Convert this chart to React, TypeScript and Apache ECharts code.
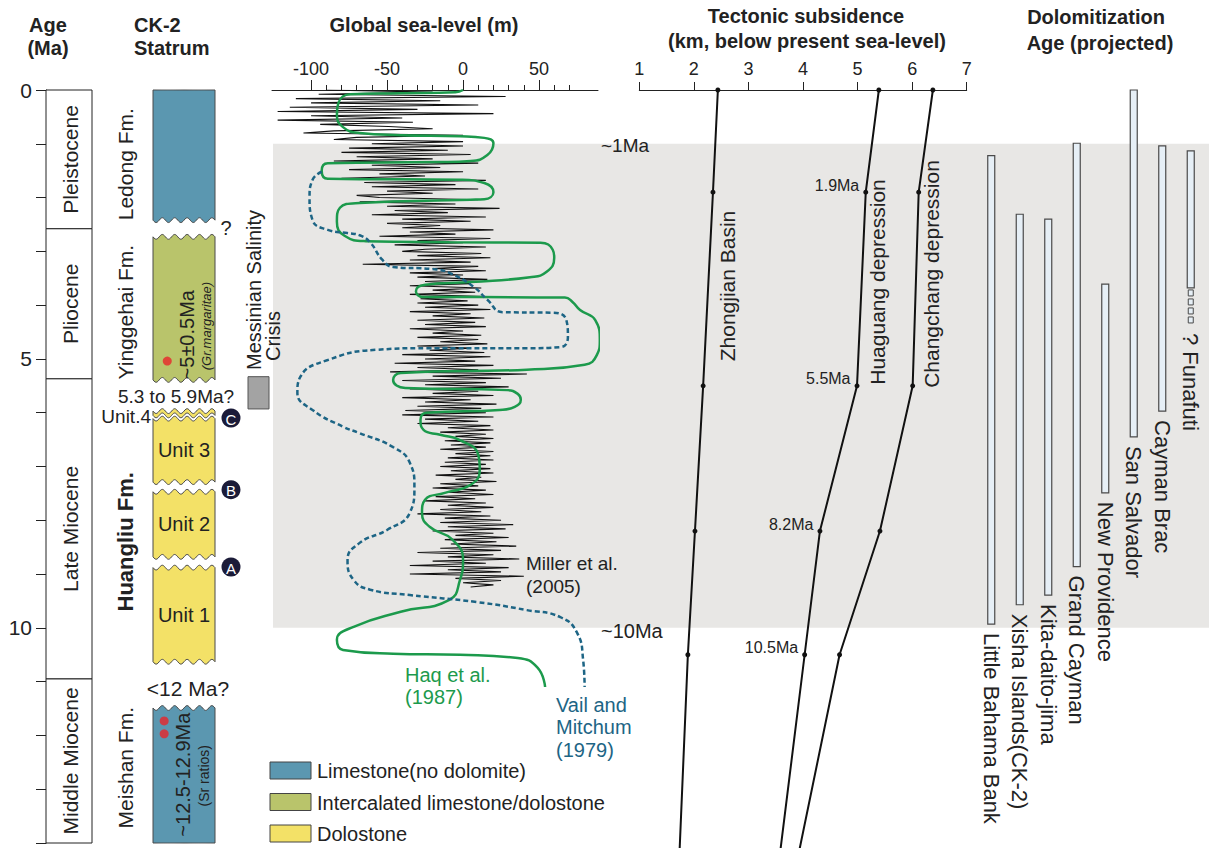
import React, { useEffect, useRef } from 'react';
import * as echarts from 'echarts';

const FONT = '"Liberation Sans", Arial, Helvetica, sans-serif';
const INK = '#222222';
const AGE_MIN = 0;
const AGE_MAX = 14;

// Geological time scale (Ma)
const EPOCHS = [
  { name: 'Pleistocene', top: 0, base: 2.58 },
  { name: 'Pliocene', top: 2.58, base: 5.37 },
  { name: 'Late Miocene', top: 5.37, base: 10.95 },
  { name: 'Middle Miocene', top: 10.95, base: 14 },
];

// CK-2 lithological units (Ma)
const LITH_COLORS: Record<string, string> = {
  limestone: '#5b97b0',
  mixed: '#b9c46b',
  dolostone: '#f3e167',
};
const STRAT_UNITS = [
  { name: '', top: 0, base: 2.42, lith: 'limestone', topWavy: false, baseWavy: true },
  { name: '', top: 2.73, base: 5.39, lith: 'mixed', topWavy: true, baseWavy: true },
  { name: '', top: 5.97, base: 6.05, lith: 'dolostone', topWavy: true, baseWavy: true },
  { name: 'Unit 3', top: 6.11, base: 7.29, lith: 'dolostone', topWavy: true, baseWavy: true },
  { name: 'Unit 2', top: 7.47, base: 8.68, lith: 'dolostone', topWavy: true, baseWavy: true },
  { name: 'Unit 1', top: 8.88, base: 10.63, lith: 'dolostone', topWavy: true, baseWavy: true },
  { name: '', top: 11.49, base: 14, lith: 'limestone', topWavy: true, baseWavy: false },
];

// Formation names and notes beside / inside the column (dx: px from column left)
const STRAT_NOTES = [
  { text: 'Ledong Fm.', age: 1.38, dx: -28, size: 21, rotate: true, weight: 'normal', style: 'normal', align: 'center' },
  { text: 'Yinggehai Fm.', age: 4.13, dx: -28, size: 21, rotate: true, weight: 'normal', style: 'normal', align: 'center' },
  { text: 'Huangliu Fm.', age: 8.4, dx: -28, size: 22, rotate: true, weight: 'bold', style: 'normal', align: 'center' },
  { text: 'Meishan Fm.', age: 12.6, dx: -28, size: 21, rotate: true, weight: 'normal', style: 'normal', align: 'center' },
  { text: '~5±0.5Ma', age: 4.55, dx: 34, size: 20, rotate: true, weight: 'normal', style: 'normal', align: 'center' },
  { text: '(Gr.margaritae)', age: 4.39, dx: 53, size: 13, rotate: true, weight: 'normal', style: 'italic', align: 'center' },
  { text: '~12.5-12.9Ma', age: 12.73, dx: 30, size: 20, rotate: true, weight: 'normal', style: 'normal', align: 'center' },
  { text: '(Sr ratios)', age: 12.75, dx: 51, size: 14, rotate: true, weight: 'normal', style: 'normal', align: 'center' },
  { text: '5.3 to 5.9Ma?', age: 5.69, dx: 23, size: 19, rotate: false, weight: 'normal', style: 'normal', align: 'center' },
  { text: 'Unit.4', age: 6.07, dx: -2, size: 19, rotate: false, weight: 'normal', style: 'normal', align: 'right' },
  { text: '<12 Ma?', age: 11.12, dx: 35, size: 21, rotate: false, weight: 'normal', style: 'normal', align: 'center' },
  { text: '?', age: 2.57, dx: 73, size: 20, rotate: false, weight: 'normal', style: 'normal', align: 'center' },
];

// Dated samples (fraction across column, age Ma)
const DATED_SAMPLES = [
  [0.23, 5.04],
  [0.18, 11.73],
  [0.18, 11.97],
];

// Sequence boundaries
const BOUNDARIES = [
  { name: 'C', age: 6.1 },
  { name: 'B', age: 7.43 },
  { name: 'A', age: 8.87 },
];

const MESSINIAN = { top: 5.33, base: 5.93 };
const DOLOMITIZATION_WINDOW = { top: 1, base: 10 };

// Global sea-level (m)
const SEA_MIN = -125.7;
const SEA_MAX = 88.8;
const SEA_MAJOR = [-100, -50, 0, 50];
const SEA_MINOR = [-90, -80, -70, -60, -40, -30, -20, -10, 10, 20, 30, 40, 60, 70];

// Miller et al. (2005): sea level every 0.04 Ma from 0 Ma
const MILLER_STEP = 0.04;
const MILLER_LEVELS = [
  -90, -20, -95, 28, -110, -15, -100, 10, -114, -30, -122, 20, -100, -40, -122, -33, -94, -49, -20, -85, -105, 0, -70, -85, 0,
  -60, 0, -75, -10, -80, 5, -70, -20, -85, 10, -60, -15, -75, 0, -55, -25, -80, 15, -65, -5, -60, 10, -50, -20, -70,
  -55, 10, -68, -5, -50, 24, -45, -10, -60, 15, -40, 5, -50, -15, -40, 20, -35, -5, -55, 18, -30, 0, -45, 15, -25,
  -40, 12, -30, 18, -35, 5, -66, 10, -20, 15, -35, 0, -30, 16, -25, 5, -35, 12, -20, 8, -35, 15, -28, 3, -30,
  10, -25, 18, -35, 5, -20, 14, -30, 8, -25, 15, -35, 0, -20, 12, -30, 10, -15, 16, -30, 5, -22, 14, -40, 18,
  -25, 8, -45, 20, -30, 10, -48, 42, -20, 25, -40, 15, -25, 30, -35, 10, -20, 20, -40, 5, -25, 22, -30, 12, -38,
  15, -40, 20, -25, 10, -30, 18, -10, 20, -15, 15, -5, 20, -12, 18, -8, 15, -15, 20, -5, 18, -10, 20, -12, 15,
  -15, 18, -8, 20, -18, 12, -5, 22, -15, 10, -20, 15, -10, 20, -18, 8, -25, 15, -10, 20, -15, 12, -30, 18, -12,
  25, -15, 33, -10, 28, -20, 20, -5, 30, -12, 22, -8, 35, -15, 25, -30, 20, -10, 37, -20, 15, -35, 30, -10, 25,
  -35, 40, -5, 25, 0, 20, 5,
];

// Haq et al. (1987): [sea level m, age Ma]
const HAQ = [
  [0, 0], [-5, 0.04], [-41, 0.06], [-74, 0.08], [-82, 0.24], [-83, 0.46], [-79, 0.69], [-68, 0.8],
  [-41, 0.84], [-2, 0.86], [14, 0.89], [20, 0.99], [16, 1.21], [5, 1.32], [-15, 1.34], [-89, 1.36],
  [-93, 1.5], [-89, 1.65], [-2, 1.67], [14, 1.73], [20, 1.9], [14, 2.03], [5, 2.04], [-68, 2.1],
  [-81, 2.19], [-83, 2.45], [-78, 2.71], [-64, 2.81], [-9, 2.83], [51, 2.84], [59, 2.97], [60, 3.12],
  [55, 3.38], [44, 3.48], [5, 3.57], [-25, 3.62], [-31, 3.74], [-26, 3.85], [11, 3.85], [67, 3.86],
  [72, 3.94], [77, 4.09], [87, 4.28], [90, 4.65], [88, 4.93], [80, 5.11], [42, 5.2], [-41, 5.26],
  [-46, 5.39], [-38, 5.54], [29, 5.58], [36, 5.65], [38, 5.76], [34, 5.89], [24, 5.95], [-24, 6.0],
  [-28, 6.13], [-26, 6.32], [-15, 6.41], [-2, 6.51], [10, 6.78], [11, 7.06], [5, 7.34], [-12, 7.49],
  [-25, 7.62], [-27, 7.86], [-22, 8.12], [-7, 8.36], [0, 8.74], [-2, 9.11], [-9, 9.48], [-41, 9.7],
  [-72, 9.98], [-83, 10.22], [-79, 10.41], [-46, 10.48], [-2, 10.5], [36, 10.56], [49, 10.74], [54, 11.1],
];

// Vail and Mitchum (1979): [sea level m, age Ma]
const VAIL = [
  [-93, 1.52], [-99, 1.67], [-101, 1.99], [-99, 2.42], [-89, 2.6], [-76, 2.66], [-68, 2.7], [-61, 2.84],
  [-53, 3.16], [-46, 3.29], [-20, 3.33], [-9, 3.4], [7, 3.66], [16, 3.9], [26, 4.13], [59, 4.14],
  [68, 4.28], [69, 4.59], [64, 4.78], [42, 4.8], [-24, 4.8], [-57, 4.83], [-89, 5.02], [-107, 5.33],
  [-109, 5.63], [-99, 5.95], [-79, 6.26], [-68, 6.38], [-46, 6.64], [-35, 6.93], [-32, 7.38], [-35, 7.86],
  [-50, 8.18], [-68, 8.42], [-76, 8.74], [-72, 9.11], [-61, 9.29], [-35, 9.39], [9, 9.52], [42, 9.67],
  [64, 9.8], [75, 10.09], [79, 10.59], [80, 11.1],
];

// Tectonic subsidence (km below present sea level) at ages (Ma)
const SUBSIDENCE_AGES = [0, 1.9, 5.5, 8.2, 10.5, 14.1];
const ZHONGJIAN = [2.44, 2.35, 2.17, 2.02, 1.89, 1.74];
const HUAGUANG = [5.39, 5.15, 4.99, 4.31, 4.03, 3.59];
const CHANGCHANG = [6.38, 6.12, 6.01, 5.41, 4.67, 3.94];
const LABELLED_AGES = [1.9, 5.5, 8.2, 10.5];

// Dolomitization age ranges (Ma)
const DOLOMITE = [
  { name: 'Little Bahama Bank', top: 1.22, base: 9.93 },
  { name: 'Xisha Islands(CK-2)', top: 2.31, base: 9.57 },
  { name: 'Kita-daito-jima', top: 2.4, base: 9.39 },
  { name: 'Grand Cayman', top: 0.99, base: 8.86 },
  { name: 'New Providence', top: 3.61, base: 7.49 },
  { name: 'San Salvador', top: 0, base: 6.45 },
  { name: 'Cayman Brac', top: 1.04, base: 5.97 },
  { name: 'Funafuti', top: 1.13, base: 3.68, uncertainBase: 4.35 },
];

const LEGEND = [
  { name: 'Limestone(no dolomite)', lith: 'limestone' },
  { name: 'Intercalated limestone/dolostone', lith: 'mixed' },
  { name: 'Dolostone', lith: 'dolostone' },
];

const GREEN = '#1c9a4c';
const TEAL = '#1d6585';

function edge(x0: number, x1: number, y: number, wavy: boolean, reverse: boolean) {
  const pts: number[][] = [];
  const n = 60;
  for (let i = 0; i <= n; i++) {
    const t = i / n;
    const x = x0 + (x1 - x0) * t;
    const dy = wavy ? 2.4 * Math.sin(t * 5 * 2 * Math.PI) : 0;
    pts.push([x, y + dy]);
  }
  return reverse ? pts.reverse() : pts;
}

function txt(text: string, x: number, y: number, o: any = {}) {
  return {
    type: 'text',
    x,
    y,
    rotation: o.rotation || 0,
    z: 20,
    style: {
      text,
      fill: o.fill || INK,
      font: `${o.style || 'normal'} ${o.weight || 'normal'} ${o.size || 20}px ${FONT}`,
      align: o.align || 'left',
      verticalAlign: o.va || 'middle',
    },
  };
}

function hiddenY(gridIndex: number) {
  return { gridIndex, type: 'value', inverse: true, min: AGE_MIN, max: AGE_MAX, show: false };
}
function hiddenX(gridIndex: number) {
  return { gridIndex, type: 'value', min: 0, max: 1, show: false };
}

function subsidenceSeries(values: number[], labelled: boolean) {
  return {
    type: 'line',
    xAxisIndex: 5,
    yAxisIndex: 4,
    clip: false,
    z: 6,
    lineStyle: { color: '#111', width: 2 },
    itemStyle: { color: '#111' },
    symbolSize: 5,
    data: values.map((km, i) => {
      const age = SUBSIDENCE_AGES[i];
      const last = i === values.length - 1;
      return {
        value: [km, age],
        symbol: last ? 'none' : 'circle',
        label: {
          show: labelled && LABELLED_AGES.includes(age),
          formatter: `${age}Ma`,
          position: 'left',
          distance: 4,
          offset: [0, -7],
          fontSize: 16,
          fontFamily: FONT,
          color: INK,
        },
      };
    }),
  };
}

function buildOption() {
  const grids = [
    { left: 46, top: 90, width: 46, height: 753 },
    { left: 153, top: 90, width: 62, height: 753 },
    { left: 273, top: 90, width: 936, height: 753 },
    { left: 272, top: 90, width: 326, height: 753 },
    { left: 639.3, top: 90, width: 327.4, height: 753 },
    { left: 977, top: 90, width: 228, height: 753 },
  ].map((g) => ({ ...g, containLabel: false, outerBoundsMode: 'none' }));

  const axisText = { fontFamily: FONT, color: INK };

  const graphic: any[] = [
    txt('Age', 48, 25, { weight: 'bold', align: 'center' }),
    txt('(Ma)', 48, 48, { weight: 'bold', align: 'center' }),
    txt('CK-2', 134, 25, { weight: 'bold' }),
    txt('Statrum', 134, 48, { weight: 'bold' }),
    txt('Global sea-level (m)', 424, 25, { weight: 'bold', align: 'center' }),
    txt('Tectonic subsidence', 806, 16, { weight: 'bold', align: 'center' }),
    txt('(km, below present sea-level)', 807, 41, { weight: 'bold', align: 'center' }),
    txt('Dolomitization', 1096, 17, { weight: 'bold', align: 'center' }),
    txt('Age (projected)', 1100, 43, { weight: 'bold', align: 'center' }),
    txt('~1Ma', 601, 145, { size: 19 }),
    txt('~10Ma', 601, 631, { size: 20 }),
    txt('Miller et al.', 526, 563, { size: 19 }),
    txt('(2005)', 526, 586, { size: 19 }),
    txt('Haq et al.', 405, 675, { fill: GREEN }),
    txt('(1987)', 405, 697, { fill: GREEN }),
    txt('Vail and', 556, 705, { fill: TEAL }),
    txt('Mitchum', 556, 727, { fill: TEAL }),
    txt('(1979)', 556, 750, { fill: TEAL }),
    txt('Messinian Salinity', 254, 370, { rotation: Math.PI / 2 }),
    txt('Crisis', 273, 361, { rotation: Math.PI / 2 }),
    txt('Zhongjian Basin', 727, 286, { size: 21, rotation: Math.PI / 2, align: 'center' }),
    txt('Huaguang depression', 877, 282, { size: 21, rotation: Math.PI / 2, align: 'center' }),
    txt('Changchang depression', 931, 274, { size: 21, rotation: Math.PI / 2, align: 'center' }),
  ];
  LEGEND.forEach((l, i) => {
    const y = 762 + i * 31.5;
    graphic.push({
      type: 'rect',
      shape: { x: 270, y, width: 41, height: 17 },
      style: { fill: LITH_COLORS[l.lith], stroke: '#444', lineWidth: 1 },
      z: 20,
    });
    graphic.push(txt(l.name, 317, y + 9, { size: 20 }));
  });

  return {
    animation: false,
    backgroundColor: '#ffffff',
    grid: grids,
    xAxis: [
      hiddenX(0),
      hiddenX(1),
      hiddenX(2),
      {
        gridIndex: 3,
        type: 'value',
        position: 'top',
        min: SEA_MIN,
        max: SEA_MAX,
        axisLine: { show: true, lineStyle: { color: INK, width: 1 } },
        axisTick: { show: true, length: 10, customValues: SEA_MAJOR, lineStyle: { color: INK } },
        axisLabel: { customValues: SEA_MAJOR, fontSize: 18, margin: 12, ...axisText },
        splitLine: { show: false },
      },
      {
        gridIndex: 3,
        type: 'value',
        position: 'top',
        min: SEA_MIN,
        max: SEA_MAX,
        axisLine: { show: false },
        axisTick: { show: true, length: 5, customValues: SEA_MINOR, lineStyle: { color: INK } },
        axisLabel: { show: false },
        splitLine: { show: false },
      },
      {
        gridIndex: 4,
        type: 'value',
        position: 'top',
        min: 1,
        max: 7,
        interval: 1,
        axisLine: { show: true, lineStyle: { color: INK, width: 1 } },
        axisTick: { show: true, length: 8, lineStyle: { color: INK } },
        axisLabel: { fontSize: 18, margin: 12, ...axisText },
        splitLine: { show: false },
      },
      {
        gridIndex: 5,
        type: 'category',
        data: DOLOMITE.map((d) => d.name),
        show: false,
      },
    ],
    yAxis: [
      {
        gridIndex: 0,
        type: 'value',
        inverse: true,
        min: AGE_MIN,
        max: AGE_MAX,
        interval: 1,
        axisLine: { show: true, lineStyle: { color: INK, width: 1 } },
        axisTick: { show: true, length: 10, lineStyle: { color: INK } },
        axisLabel: {
          formatter: (v: number) => (v % 5 === 0 ? String(v) : ''),
          fontSize: 21,
          margin: 14,
          ...axisText,
        },
        splitLine: { show: false },
      },
      hiddenY(1),
      hiddenY(2),
      hiddenY(3),
      hiddenY(4),
      hiddenY(5),
    ],
    graphic,
    series: [
      // grey window of dolomitization
      {
        type: 'custom',
        xAxisIndex: 2,
        yAxisIndex: 2,
        z: 0,
        clip: false,
        data: [[0, DOLOMITIZATION_WINDOW.top, DOLOMITIZATION_WINDOW.base]],
        renderItem: (_p: any, api: any) => {
          const a = api.coord([0, DOLOMITIZATION_WINDOW.top]);
          const b = api.coord([1, DOLOMITIZATION_WINDOW.base]);
          return {
            type: 'rect',
            shape: { x: a[0], y: a[1], width: b[0] - a[0], height: b[1] - a[1] },
            style: { fill: '#e8e7e5' },
          };
        },
      },
      // epochs
      {
        type: 'custom',
        xAxisIndex: 0,
        yAxisIndex: 0,
        clip: false,
        data: EPOCHS.map((e) => [0.5, e.top, e.base]),
        renderItem: (p: any, api: any) => {
          const e = EPOCHS[p.dataIndex];
          const a = api.coord([0, e.top]);
          const b = api.coord([1, e.base]);
          return {
            type: 'group',
            children: [
              {
                type: 'rect',
                shape: { x: a[0], y: a[1], width: b[0] - a[0], height: b[1] - a[1] },
                style: { fill: '#fff', stroke: INK, lineWidth: 1 },
              },
              txt(e.name, (a[0] + b[0]) / 2 + 1, (a[1] + b[1]) / 2, { size: 21, rotation: Math.PI / 2, align: 'center' }),
            ],
          };
        },
      },
      // CK-2 column
      {
        type: 'custom',
        xAxisIndex: 1,
        yAxisIndex: 1,
        clip: false,
        data: STRAT_UNITS.map((u) => [0.5, u.top, u.base]),
        renderItem: (p: any, api: any) => {
          const u = STRAT_UNITS[p.dataIndex];
          const a = api.coord([0, u.top]);
          const b = api.coord([1, u.base]);
          const points = [
            ...edge(a[0], b[0], a[1], u.topWavy, false),
            ...edge(a[0], b[0], b[1], u.baseWavy, true),
          ];
          const children: any[] = [
            {
              type: 'polygon',
              shape: { points },
              style: { fill: LITH_COLORS[u.lith], stroke: '#4a4a4a', lineWidth: 1 },
            },
          ];
          if (u.name) {
            children.push(txt(u.name, (a[0] + b[0]) / 2, (a[1] + b[1]) / 2, { size: 20, align: 'center' }));
          }
          return { type: 'group', children };
        },
      },
      // notes and formation names
      {
        type: 'custom',
        xAxisIndex: 1,
        yAxisIndex: 1,
        clip: false,
        z: 8,
        data: STRAT_NOTES.map((n) => [0, n.age]),
        renderItem: (p: any, api: any) => {
          const n = STRAT_NOTES[p.dataIndex];
          const a = api.coord([0, n.age]);
          return txt(n.text, a[0] + n.dx, a[1], {
            size: n.size,
            weight: n.weight,
            style: n.style,
            align: n.align,
            rotation: n.rotate ? Math.PI / 2 : 0,
          });
        },
      },
      // dated samples
      {
        type: 'scatter',
        xAxisIndex: 1,
        yAxisIndex: 1,
        z: 9,
        symbolSize: 9,
        itemStyle: { color: '#e8262b' },
        data: DATED_SAMPLES,
      },
      // sequence boundaries and Messinian salinity crisis
      {
        type: 'custom',
        xAxisIndex: 1,
        yAxisIndex: 1,
        clip: false,
        z: 9,
        data: BOUNDARIES.map((b) => [1, b.age]),
        renderItem: (p: any, api: any) => {
          const bd = BOUNDARIES[p.dataIndex];
          const c = api.coord([1, bd.age]);
          const children: any[] = [
            { type: 'circle', shape: { cx: c[0] + 16, cy: c[1], r: 9.5 }, style: { fill: '#1b1b38' } },
            txt(bd.name, c[0] + 16, c[1] + 1, { size: 15, align: 'center', fill: '#fff' }),
          ];
          if (p.dataIndex === 0) {
            const m0 = api.coord([1, MESSINIAN.top]);
            const m1 = api.coord([1, MESSINIAN.base]);
            children.push({
              type: 'rect',
              shape: { x: m0[0] + 33, y: m0[1], width: 21, height: m1[1] - m0[1] },
              style: { fill: '#a3a3a3', stroke: '#555', lineWidth: 1 },
            });
          }
          return { type: 'group', children };
        },
      },
      // sea level curves
      {
        type: 'line',
        xAxisIndex: 3,
        yAxisIndex: 3,
        z: 4,
        symbol: 'none',
        lineStyle: { color: '#111', width: 1.1 },
        data: MILLER_LEVELS.map((v, i) => [v, +(i * MILLER_STEP).toFixed(2)]),
      },
      {
        type: 'line',
        xAxisIndex: 3,
        yAxisIndex: 3,
        z: 5,
        symbol: 'none',
        smooth: 0.5,
        clip: false,
        lineStyle: { color: GREEN, width: 2.5 },
        data: HAQ,
      },
      {
        type: 'line',
        xAxisIndex: 3,
        yAxisIndex: 3,
        z: 5,
        symbol: 'none',
        smooth: 0.5,
        clip: false,
        lineStyle: { color: TEAL, width: 2.5, type: [5, 3] },
        data: VAIL,
      },
      // tectonic subsidence
      subsidenceSeries(ZHONGJIAN, false),
      subsidenceSeries(HUAGUANG, true),
      subsidenceSeries(CHANGCHANG, false),
      // dolomitization ages
      {
        type: 'custom',
        xAxisIndex: 6,
        yAxisIndex: 5,
        clip: false,
        z: 6,
        data: DOLOMITE.map((d, i) => [i, d.top, d.base]),
        renderItem: (p: any, api: any) => {
          const i = p.dataIndex;
          const d: any = DOLOMITE[i];
          const a = api.coord([i, d.top]);
          const b = api.coord([i, d.base]);
          const w = 7;
          const children: any[] = [
            {
              type: 'rect',
              shape: { x: a[0] - w / 2, y: a[1], width: w, height: b[1] - a[1] },
              style: { fill: '#e6eff6', stroke: '#4a4a4a', lineWidth: 1.2 },
            },
          ];
          let end = b[1];
          let label = d.name;
          if (d.uncertainBase) {
            const c = api.coord([i, d.uncertainBase]);
            const n = 4;
            const seg = (c[1] - b[1]) / n;
            for (let k = 0; k < n; k++) {
              children.push({
                type: 'rect',
                shape: { x: a[0] - 2.5, y: b[1] + k * seg + 2, width: 5, height: seg - 3 },
                style: { fill: '#e6eff6', stroke: '#4a4a4a', lineWidth: 1 },
              });
            }
            end = c[1];
            label = '? ' + d.name;
          }
          children.push(txt(label, a[0], end + 9, { size: 22, rotation: -Math.PI / 2 }));
          return { type: 'group', children };
        },
      },
    ],
  };
}

export default function App() {
  const ref = useRef<HTMLDivElement>(null);
  useEffect(() => {
    if (!ref.current) return;
    const chart = echarts.init(ref.current, null, { renderer: 'svg' });
    chart.setOption(buildOption() as any);
    return () => chart.dispose();
  }, []);
  return (
    <div
      ref={ref}
      style={{ position: 'absolute', left: 0, top: 0, width: 1209, height: 848, background: '#fff' }}
    />
  );
}
